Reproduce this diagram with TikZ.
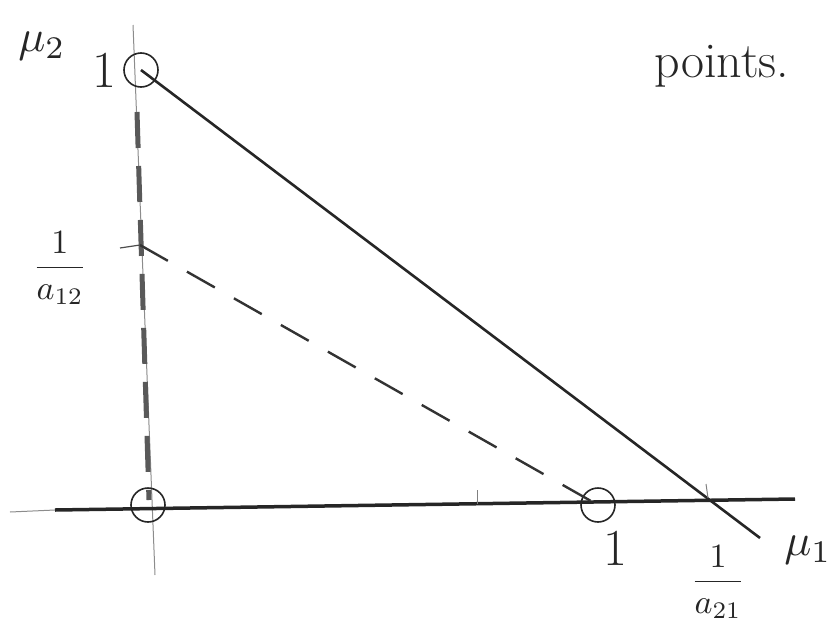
\documentclass[tikz,border=0pt]{standalone}
\usepackage{graphicx}
\usetikzlibrary{calc}
\begin{document}
\begin{tikzpicture}[x=1pt,y=-1pt,
  axisline/.style={line width=3.5pt,draw=black!85},
  thinaxis/.style={line width=1pt,draw=black!45},
  mainline/.style={line width=2.6pt,draw=black!85},
  dashline/.style={line width=2.4pt,draw=black!80,dash pattern=on 32pt off 22pt},
  thickdash/.style={line width=5pt,draw=black!65,dash pattern=on 36pt off 18pt},
  ring/.style={circle,draw=black!85,line width=1.6pt,minimum size=34pt,inner sep=0pt},
  lbl/.style={font=\fontsize{52}{56}\selectfont,text=black!85,inner sep=0pt},
  mlbl/.style={text=black!85,inner sep=0pt}]
\useasboundingbox (0,0) rectangle (835,640);
% axes
\coordinate (vtop) at (133,25);
\coordinate (vbot) at (155,575);
\draw[thinaxis] (vtop) -- (vbot);
\coordinate (hl0) at (10,512);
\coordinate (hl) at (55,510);
\coordinate (hr) at (795,499);
\draw[thinaxis] (hl0) -- (hl);
\draw[axisline] (hl) -- (hr);
% thick dashed segment on vertical axis
\coordinate (td1) at (137,112);
\coordinate (td2) at (149,500);
\draw[thickdash] (td1) -- (td2);
% points
\node[ring] (p1) at (141,70) {};
\node[ring] (o) at (148,505) {};
\node[ring] (q1) at (598,505) {};
\coordinate (a12) at (140,245);
\coordinate (send) at (760,538);
\coordinate (tick1) at (120,248);
\coordinate (tick2) at (477,490);
\coordinate (tick3) at (477,504);
\coordinate (tick4) at (706,484);
\coordinate (tick5) at (708,498);
% lines
\draw[mainline] (p1.center) -- (send);
\draw[dashline] (a12) -- (q1.center);
\draw[line width=1.2pt,black!70] (tick1) -- (a12);
\draw[line width=1pt,black!50] (tick2) -- (tick3);
\draw[line width=1pt,black!50] (tick4) -- (tick5);
% labels
\node[lbl] (l1) at (104,70) {1};
\node[mlbl] (mu2) at (42,46) {\scalebox{4.5}{$\mu_2$}};
\node[mlbl] (la12) at (60,268) {\scalebox{3.4}{$\displaystyle\frac{1}{a_{12}}$}};
\node[lbl] (l1b) at (615,548) {1};
\node[mlbl] (la21) at (718,582) {\scalebox{3.4}{$\displaystyle\frac{1}{a_{21}}$}};
\node[mlbl] (mu1) at (808,550) {\scalebox{4.5}{$\mu_1$}};
\node[lbl,font=\fontsize{50}{54}\selectfont] (pts) at (722,66) {points.};
\end{tikzpicture}
\end{document}
